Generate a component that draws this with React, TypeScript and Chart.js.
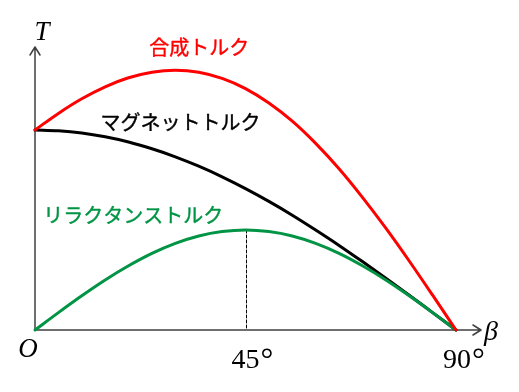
import React, { useEffect, useRef } from "react";
import { Chart, registerables } from "chart.js";

Chart.register(...registerables);

// β in degrees
const angles = [0, 5, 10, 15, 20, 25, 30, 35, 40, 45, 50, 55, 60, 65, 70, 75, 80, 85, 90];
// マグネットトルク
const magnetTorque = [1.0, 0.996, 0.985, 0.966, 0.94, 0.906, 0.866, 0.819, 0.766, 0.707, 0.643, 0.574, 0.5, 0.423, 0.342, 0.259, 0.174, 0.087, 0.0];
// リラクタンストルク
const reluctanceTorque = [0.0, 0.087, 0.171, 0.25, 0.321, 0.383, 0.433, 0.47, 0.492, 0.5, 0.492, 0.47, 0.433, 0.383, 0.321, 0.25, 0.171, 0.087, 0.0];
// 合成トルク
const combinedTorque = [1.0, 1.083, 1.156, 1.216, 1.261, 1.289, 1.299, 1.289, 1.258, 1.207, 1.135, 1.044, 0.933, 0.806, 0.663, 0.509, 0.345, 0.174, 0.0];

const seriesNames = ["合成トルク", "マグネットトルク", "リラクタンストルク"];
const tickLabels = ["45°", "90°"];
const tickValues = [45, 90];
const peakAngle = 45;
const peakValue = 0.5;

const RED = "#ff0000";
const BLACK = "#000000";
const GREEN = "#009444";
const AXIS = "#404040";

// label anchor positions in data coordinates (β, T)
const labelPos = [
  { x: 35.1, y: 1.415 },
  { x: 31.1, y: 1.04 },
  { x: 21.0, y: 0.575 },
];

const overlay = {
  id: "overlay",
  beforeDatasetsDraw(chart: any) {
    const { ctx, scales } = chart;
    const xs = scales.x;
    const ys = scales.y;
    const x0 = xs.getPixelForValue(0);
    const y0 = ys.getPixelForValue(0);
    ctx.save();
    ctx.strokeStyle = AXIS;
    ctx.lineWidth = 1.5;
    ctx.lineCap = "round";
    ctx.lineJoin = "round";
    // x axis
    const xEnd = 481;
    ctx.beginPath();
    ctx.moveTo(x0, y0);
    ctx.lineTo(xEnd, y0);
    ctx.moveTo(xEnd - 8, y0 - 5);
    ctx.lineTo(xEnd, y0);
    ctx.lineTo(xEnd - 8, y0 + 5);
    ctx.stroke();
    // y axis
    const yEnd = 47;
    ctx.beginPath();
    ctx.moveTo(x0, y0);
    ctx.lineTo(x0, yEnd);
    ctx.moveTo(x0 - 5, yEnd + 8);
    ctx.lineTo(x0, yEnd);
    ctx.lineTo(x0 + 5, yEnd + 8);
    ctx.stroke();
    // dashed line at peak
    const px = xs.getPixelForValue(peakAngle);
    ctx.strokeStyle = "#000";
    ctx.lineWidth = 1;
    ctx.setLineDash([3, 2]);
    ctx.beginPath();
    ctx.moveTo(Math.round(px) + 0.5, ys.getPixelForValue(peakValue));
    ctx.lineTo(Math.round(px) + 0.5, y0);
    ctx.stroke();
    ctx.restore();
  },
  afterDatasetsDraw(chart: any) {
    const { ctx, scales } = chart;
    const xs = scales.x;
    const ys = scales.y;
    const x0 = xs.getPixelForValue(0);
    const y0 = ys.getPixelForValue(0);
    ctx.save();
    ctx.textBaseline = "alphabetic";
    ctx.fillStyle = "#000";
    // axis letters
    ctx.font = "italic 27px 'Liberation Serif', serif";
    ctx.textAlign = "center";
    ctx.fillText("T", x0 + 7, 40);
    ctx.fillText("O", x0 - 7, y0 + 27);
    ctx.font = "italic 28px 'Liberation Serif', serif";
    ctx.textAlign = "left";
    ctx.fillText("β", 484, y0 + 10);
    // tick labels
    tickLabels.forEach((t, i) => {
      const px = xs.getPixelForValue(tickValues[i]);
      const num = t.replace("°", "");
      ctx.font = "28px 'Liberation Serif', serif";
      const w = ctx.measureText(num).width;
      const startX = i === 0 ? px - 14 : px - 13;
      ctx.fillText(num, startX, y0 + 38);
      ctx.font = "32px 'Liberation Serif', serif";
      ctx.fillText("°", startX + w + 1, y0 + 40);
    });
    // series labels
    ctx.font = "20px 'Noto Sans CJK JP', sans-serif";
    ctx.textAlign = "center";
    ctx.textBaseline = "middle";
    ctx.lineWidth = 0.4;
    ctx.lineJoin = "round";
    const colors = [RED, BLACK, GREEN];
    seriesNames.forEach((name, i) => {
      ctx.fillStyle = colors[i];
      ctx.strokeStyle = colors[i];
      const lx = xs.getPixelForValue(labelPos[i].x);
      const ly = ys.getPixelForValue(labelPos[i].y);
      ctx.fillText(name, lx, ly);
      ctx.strokeText(name, lx, ly);
    });
    ctx.restore();
  },
};

export default function App() {
  const ref = useRef<HTMLCanvasElement>(null);
  useEffect(() => {
    if (!ref.current) return;
    const toPts = (vals: number[]) => angles.map((a, i) => ({ x: a, y: vals[i] }));
    const chart = new Chart(ref.current, {
      type: "line",
      data: {
        datasets: [
          { label: seriesNames[0], data: toPts(combinedTorque), borderColor: RED, borderWidth: 3, order: 1 },
          { label: seriesNames[2], data: toPts(reluctanceTorque), borderColor: GREEN, borderWidth: 3, order: 2 },
          { label: seriesNames[1], data: toPts(magnetTorque), borderColor: BLACK, borderWidth: 3, order: 3 },
        ] as any,
      },
      options: {
        animation: false,
        responsive: false,
        devicePixelRatio: 1,
        layout: { padding: { left: 35, right: 63, top: 30, bottom: 62 } },
        elements: {
          point: { radius: 0 },
          line: { tension: 0.4, cubicInterpolationMode: "monotone", borderJoinStyle: "round", borderCapStyle: "round" },
        },
        datasets: { line: { clip: false } as any },
        scales: {
          x: { type: "linear", min: 0, max: 90, display: false },
          y: { type: "linear", min: 0, max: 1.5, display: false },
        },
        plugins: { legend: { display: false }, tooltip: { enabled: false } },
      },
      plugins: [overlay],
    });
    return () => chart.destroy();
  }, []);
  return (
    <div style={{ position: "fixed", left: 0, top: 0, width: 519, height: 392, background: "#fff" }}>
      <canvas ref={ref} width={519} height={392} />
    </div>
  );
}
